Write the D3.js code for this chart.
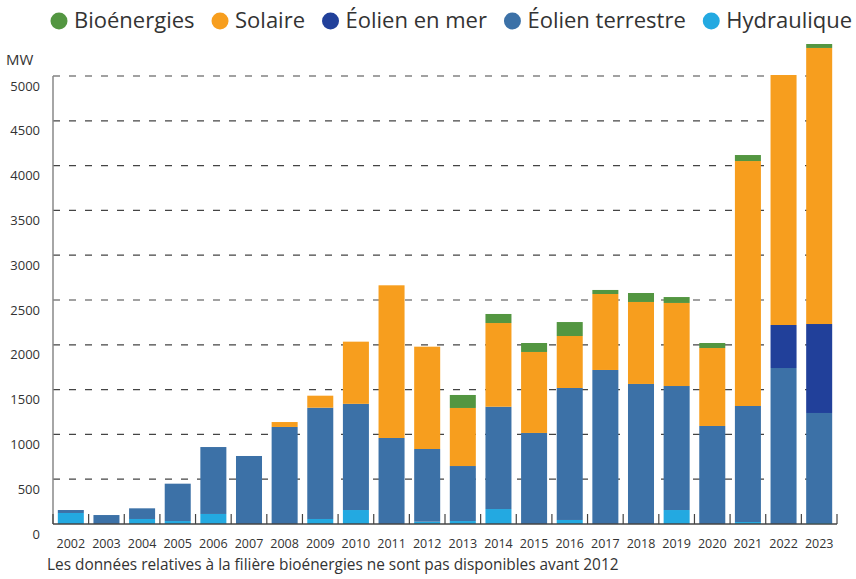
<!DOCTYPE html>
<html>
<head>
<meta charset="utf-8">
<script src="https://cdn.jsdelivr.net/npm/d3@7"></script>
<style>
  body { margin: 0; background: #fff; }
  svg { display: block; font-family: "Open Sans", sans-serif; }
</style>
</head>
<body>
<svg id="chart" width="856" height="579"></svg>
<script>
// years on the x axis
const years = ["2002", "2003", "2004", "2005", "2006", "2007", "2008", "2009", "2010", "2011", "2012",
               "2013", "2014", "2015", "2016", "2017", "2018", "2019", "2020", "2021", "2022", "2023"];

// MW added per year, by technology
const hydraulique     = [123, 0, 56, 33, 112, 0, 0, 56, 156, 0, 26, 33, 167, 0, 45, 0, 0, 156, 0, 22, 0, 11];
const eolienTerrestre = [33, 100, 119, 417, 747, 759, 1083, 1242, 1185, 960, 811, 614, 1142, 1016, 1473, 1719, 1563, 1384, 1094, 1295, 1741, 1228];
const eolienMer       = [0, 0, 0, 0, 0, 0, 0, 0, 0, 0, 0, 0, 0, 0, 0, 0, 0, 0, 0, 0, 480, 993];
const solaire         = [0, 0, 0, 0, 0, 0, 55, 134, 694, 1704, 1142, 648, 934, 904, 580, 848, 915, 927, 870, 2734, 2790, 3081];
const bioenergies     = [0, 0, 0, 0, 0, 0, 0, 0, 0, 0, 0, 145, 101, 100, 156, 45, 100, 66, 56, 67, 0, 44];

const yTicks = [0, 500, 1000, 1500, 2000, 2500, 3000, 3500, 4000, 4500, 5000];

// stacking order, bottom to top
const series = [
  {key: "hydraulique", label: "Hydraulique", color: "#23a9e1", values: hydraulique},
  {key: "terrestre", label: "Éolien terrestre", color: "#3c71a7", values: eolienTerrestre},
  {key: "mer", label: "Éolien en mer", color: "#21409a", values: eolienMer},
  {key: "solaire", label: "Solaire", color: "#f79e1e", values: solaire},
  {key: "bio", label: "Bioénergies", color: "#539641", values: bioenergies}
];

const rows = years.map((yr, i) => {
  let r = {year: yr};
  series.forEach(s => { r[s.key] = s.values[i]; });
  return r;
});

const svg = d3.select("#chart");
const plotLeft = 53, plotRight = 837, plotBottom = 524, plotTop = 76;

const x = d3.scaleBand()
    .domain(years)
    .range([plotLeft, plotRight])
    .paddingInner(0.27)
    .paddingOuter(0.135);

const y = d3.scaleLinear()
    .domain([0, 5000])
    .range([plotBottom, plotTop]);

// dashed grid
svg.append("g")
  .attr("class", "grid")
  .selectAll("line")
  .data(yTicks.filter(d => d > 0))
  .enter().append("line")
    .attr("x1", plotLeft)
    .attr("x2", plotRight)
    .attr("y1", d => y(d))
    .attr("y2", d => y(d))
    .attr("stroke", "#444")
    .attr("stroke-width", 1.2)
    .attr("stroke-dasharray", "7,9");

// y tick labels sit a little below their line
svg.append("g")
  .selectAll("text")
  .data(yTicks)
  .enter().append("text")
    .attr("x", 40)
    .attr("y", d => y(d) + 10)
    .attr("dy", "0.35em")
    .attr("text-anchor", "end")
    .attr("font-size", 13)
    .attr("fill", "#333")
    .text(d => d);

svg.append("text")
  .attr("x", 6)
  .attr("y", 60)
  .attr("dy", "0.35em")
  .attr("font-size", 15)
  .attr("fill", "#333")
  .text("MW");

// bars
const stack = d3.stack().keys(series.map(s => s.key));
const layers = stack(rows);

svg.append("g")
  .selectAll("g")
  .data(layers)
  .enter().append("g")
    .attr("fill", (d, i) => series[i].color)
  .selectAll("rect")
  .data(d => d)
  .enter().append("rect")
    .attr("x", d => x(d.data.year))
    .attr("width", x.bandwidth())
    .attr("y", d => y(d[1]))
    .attr("height", d => y(d[0]) - y(d[1]));

// axes lines
svg.append("line")
  .attr("x1", plotLeft).attr("x2", plotLeft)
  .attr("y1", plotTop).attr("y2", plotBottom)
  .attr("stroke", "#888")
  .attr("stroke-width", 1.5);

svg.append("line")
  .attr("x1", plotLeft).attr("x2", plotRight)
  .attr("y1", plotBottom).attr("y2", plotBottom)
  .attr("stroke", "#444")
  .attr("stroke-width", 1.5);

// small ticks between bars
svg.append("g")
  .selectAll("line")
  .data(d3.range(years.length + 1))
  .enter().append("line")
    .attr("x1", i => plotLeft + i * x.step())
    .attr("x2", i => plotLeft + i * x.step())
    .attr("y1", plotBottom)
    .attr("y2", plotBottom - 10)
    .attr("stroke", "#444")
    .attr("stroke-width", 1.2);

svg.append("g")
  .selectAll("text")
  .data(years)
  .enter().append("text")
    .attr("x", d => x(d) + x.bandwidth() / 2)
    .attr("y", 544)
    .attr("dy", "0.35em")
    .attr("text-anchor", "middle")
    .attr("font-size", 12.5)
    .attr("fill", "#333")
    .text(d => d);

svg.append("text")
  .attr("x", 47)
  .attr("y", 565)
  .attr("dy", "0.35em")
  .attr("font-size", 15.4)
  .attr("fill", "#333")
  .text("Les données relatives à la filière bioénergies ne sont pas disponibles avant 2012");

// legend, top to bottom of the stack
let legend = svg.append("g").attr("class", "legend");
let cx = 59;
series.slice().reverse().forEach(s => {
  legend.append("circle")
    .attr("cx", cx)
    .attr("cy", 21)
    .attr("r", 8.5)
    .attr("fill", s.color);
  let t = legend.append("text")
    .attr("x", cx + 15)
    .attr("y", 28)
    .attr("font-size", 22)
    .attr("fill", "#333")
    .text(s.label);
  cx = cx + 15 + t.node().getComputedTextLength() + 25.5;
});
</script>
</body>
</html>
